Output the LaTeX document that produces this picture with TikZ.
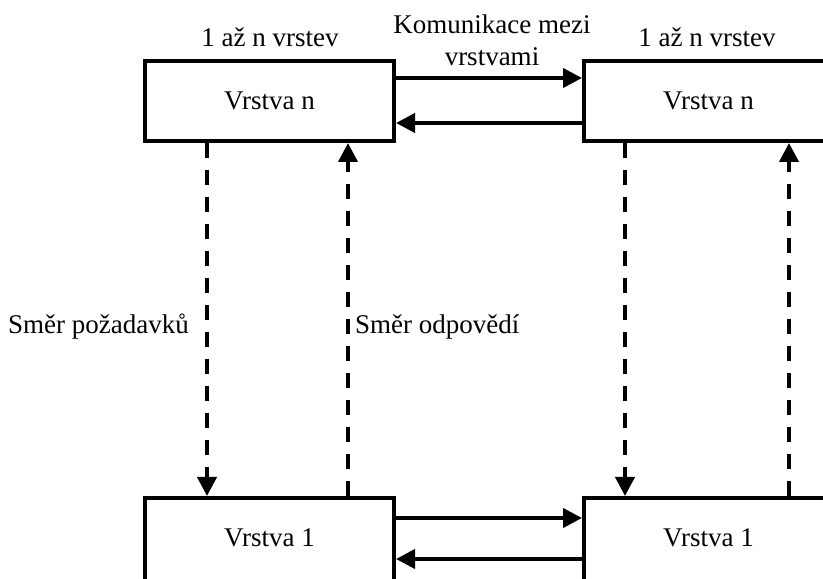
\documentclass[tikz,border=0pt]{standalone}
\usepackage{fontspec}
\setmainfont{Liberation Serif}
\usetikzlibrary{arrows.meta}
\begin{document}
\begin{tikzpicture}[x=1pt,y=1pt,
  layer/.style={draw, line width=4pt, minimum width=249pt, minimum height=80pt, inner sep=0pt},
  baselayer/.style={layer, minimum height=92pt, text depth=12pt},
  link/.style={line width=4pt, -{Triangle[length=19pt,width=19pt]}},
  flow/.style={link, dash pattern=on 15pt off 12pt},
  lbl/.style={inner sep=0pt},
  every node/.style={font=\fontsize{27}{32}\selectfont}]
\useasboundingbox (0,0) rectangle (823,579);
% layer boxes
\node[layer] (tl) at (269.5,478) {Vrstva n};
\node[layer] (tr) at (708.5,478) {Vrstva n};
\node[baselayer] (bl) at (269.5,35) {Vrstva 1};
\node[baselayer] (br) at (708.5,35) {Vrstva 1};
% labels
\node[lbl] (n1) at (270,542) {1 až n vrstev};
\node[lbl] (n2) at (707,542) {1 až n vrstev};
\node[lbl, align=center] (kom) at (492,539) {Komunikace mezi\\vrstvami};
\node[lbl, anchor=west] (req) at (8,252) {Směr požadavků};
\node[lbl, anchor=west] (resp) at (355,252) {Směr odpovědí};
% horizontal links between peers
\draw[link] ([yshift=23pt]tl.east) -- ([yshift=23pt]tr.west);
\draw[link] ([yshift=-22pt]tr.west) -- ([yshift=-22pt]tl.east);
\draw[link] ([yshift=26pt]bl.east) -- ([yshift=26pt]br.west);
\draw[link] ([yshift=-15pt]br.west) -- ([yshift=-15pt]bl.east);
% vertical request / response flows
\draw[flow] ([xshift=-62.5pt]tl.south) -- ([xshift=-62.5pt]bl.north);
\draw[flow] ([xshift=78.5pt]bl.north) -- ([xshift=78.5pt]tl.south);
\draw[flow] ([xshift=-83.5pt]tr.south) -- ([xshift=-83.5pt]br.north);
\draw[flow] ([xshift=80.5pt]br.north) -- ([xshift=80.5pt]tr.south);
\end{tikzpicture}
\end{document}
